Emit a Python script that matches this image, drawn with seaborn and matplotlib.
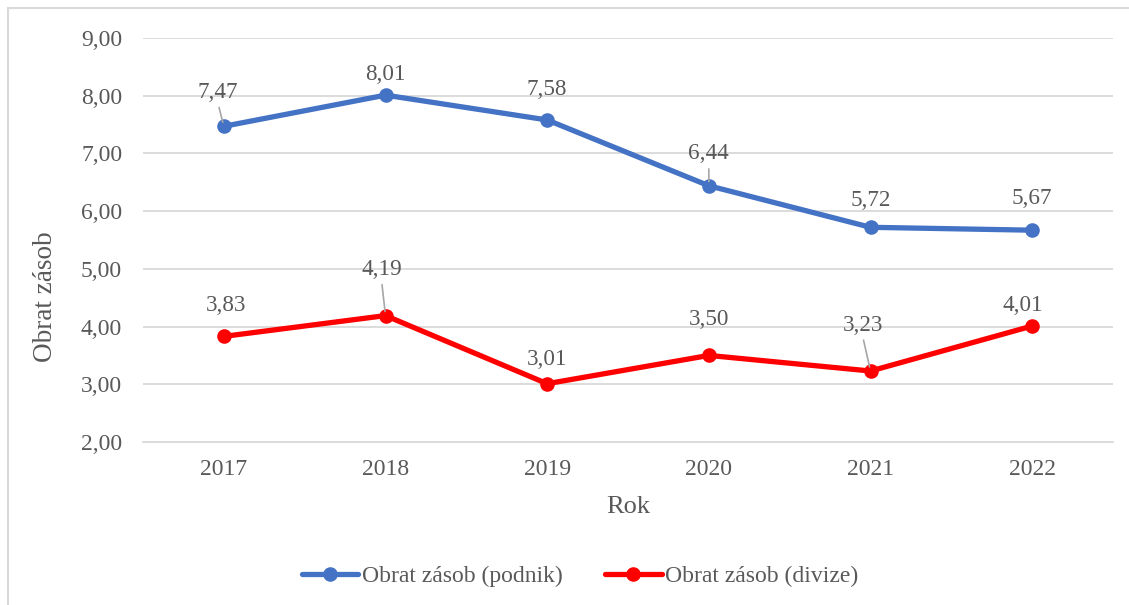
import matplotlib
matplotlib.use("Agg")
import matplotlib.pyplot as plt
import seaborn as sns
import pandas as pd
from matplotlib.lines import Line2D
from matplotlib.ticker import FuncFormatter

years = ["2017", "2018", "2019", "2020", "2021", "2022"]
podnik = [7.47, 8.01, 7.58, 6.44, 5.72, 5.67]
divize = [3.83, 4.19, 3.01, 3.50, 3.23, 4.01]
series_names = ["Obrat zásob (podnik)", "Obrat zásob (divize)"]
y_ticks = [2, 3, 4, 5, 6, 7, 8, 9]

sns.set_theme(style="white")
plt.rcParams['font.family'] = ['Liberation Serif', 'DejaVu Serif']

TXT = "#595959"
colors = {series_names[0]: "#4472C4", series_names[1]: "#FF0000"}

df = pd.DataFrame({
    "pos": list(range(len(years))) * 2,
    "val": podnik + divize,
    "serie": [series_names[0]] * len(years) + [series_names[1]] * len(years),
})

fig = plt.figure(figsize=(11.29, 6.05), dpi=100)
ax = fig.add_axes([143/1129, 1-442/605, (1113-143)/1129, (442-38)/605])

sns.lineplot(data=df, x="pos", y="val", hue="serie", style="serie",
             markers={series_names[0]: "o", series_names[1]: "o"},
             dashes=False, palette=colors, linewidth=3.8, markersize=10.5,
             markeredgewidth=0, ax=ax, legend=False)

ax.set_xlim(-0.5, len(years) - 0.5)
ax.set_ylim(2, 9)
ax.set_yticks(y_ticks)
ax.yaxis.set_major_formatter(FuncFormatter(lambda v, p: f"{v:.2f}".replace(".", ",")))
ax.set_xticks(range(len(years)))
ax.set_xticklabels(years)
ax.grid(axis="y", color="#D9D9D9", linewidth=1.3)
ax.grid(axis="x", visible=False)
for s in ["left", "right", "top"]:
    ax.spines[s].set_visible(False)
ax.spines["bottom"].set_color("#D9D9D9")
ax.spines["bottom"].set_linewidth(1.3)
ax.tick_params(axis="both", length=0, labelsize=17, colors=TXT, pad=12)
ax.tick_params(axis="y", pad=15)
ax.set_xlabel("Rok", fontsize=19, color=TXT, labelpad=12)
ax.set_ylabel("Obrat zásob", fontsize=19.5, color=TXT, va="center")
ax.yaxis.set_label_coords(-(143 - 45) / 970, (442 - 297) / 404)

# label offsets in pixels (dx, dy upward) and leader flags
off_p = [(-6, 34), (0, 21), (0, 30), (0, 32), (0, 27), (0, 32)]
lead_p = [True, False, False, True, False, False]
off_d = [(2, 31), (-4, 46), (0, 24), (0, 36), (-8, 46), (-9, 20)]
lead_d = [False, True, False, False, True, False]

def lab(vals, offs, leads):
    for i, (v, (dx, dy), ld) in enumerate(zip(vals, offs, leads)):
        kw = {}
        if ld:
            kw["arrowprops"] = dict(arrowstyle="-", color="#A6A6A6", lw=1.2,
                                    shrinkA=1, shrinkB=3, relpos=(0.5, 0.0))
        ax.annotate(f"{v:.2f}".replace(".", ","), xy=(i, v), xytext=(dx, dy),
                    textcoords="offset pixels", ha="center", va="center",
                    fontsize=16.7, color=TXT, **kw)

lab(podnik, off_p, lead_p)
lab(divize, off_d, lead_d)

handles = [Line2D([], [], color=colors[n], lw=3.8, marker="o", markersize=10.5,
                  markeredgewidth=0) for n in series_names]
fig.legend(handles, series_names, loc="center", bbox_to_anchor=(580/1129, 1-576/605),
           ncol=2, frameon=False, fontsize=17, labelcolor=TXT,
           handlelength=2.4, handletextpad=0.15, columnspacing=1.8)

# chart frame (left and top edges visible)
fig.add_artist(Line2D([8/1129, 8/1129], [0, 1-8/605], transform=fig.transFigure,
                      color="#D9D9D9", lw=1.5))
fig.add_artist(Line2D([8/1129, 1], [1-8/605, 1-8/605], transform=fig.transFigure,
                      color="#D9D9D9", lw=1.5))

fig.savefig("out.png", dpi=100)
